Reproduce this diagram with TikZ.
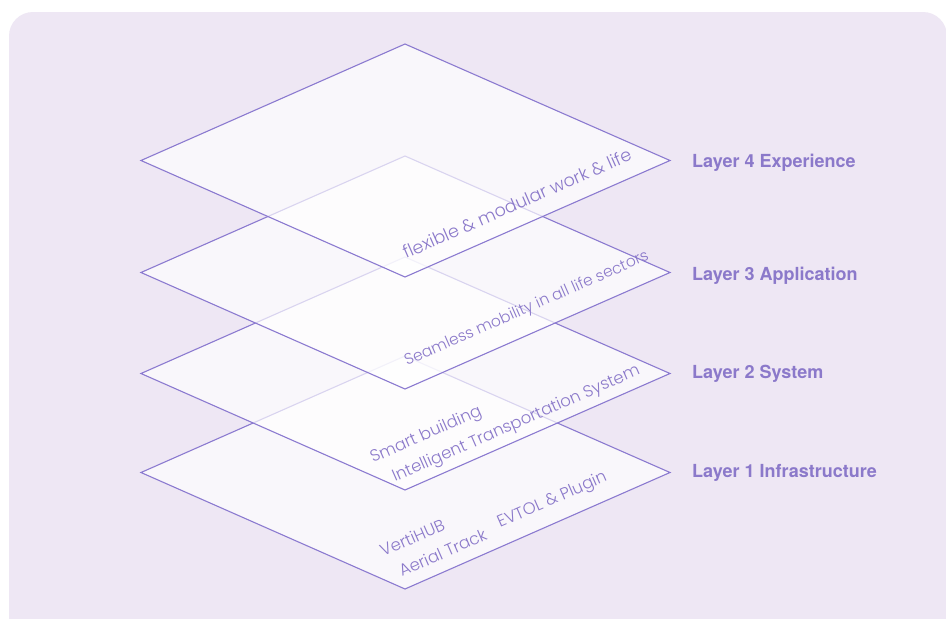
\documentclass[tikz,border=0pt]{standalone}
\usepackage{fontspec}
\setmainfont{Poppins Light}
\newfontfamily\labelfont{TeX Gyre Heros}
\definecolor{bgpurple}{HTML}{EEE7F4}
\definecolor{edgepurple}{HTML}{8B7AD0}
\definecolor{textpurple}{HTML}{8B79CA}
\tikzset{
  plane/.style={draw=edgepurple, line width=1.1pt, fill=white, fill opacity=0.68, line join=miter},
  layerlabel/.style={anchor=base west, inner sep=0pt, text=textpurple,
    font=\labelfont\bfseries\fontsize{18}{21}\selectfont},
  planetext/.style={anchor=base west, inner sep=0pt, rotate=23.7, text=textpurple,
    font=\fontsize{16.5}{19}\selectfont},
}
\begin{document}
\begin{tikzpicture}[x=1pt, y=-1pt]
\useasboundingbox (0,0) rectangle (946,619);
\fill[white] (0,0) rectangle (946,619);
% rounded panel behind the stack
\fill[bgpurple, rounded corners=24pt] (9,12) rectangle (947,660);

% the four stacked planes, drawn bottom-up so upper ones veil the lower edges
\foreach \name/\cy in {p1/472.5, p2/373.5, p3/272.5, p4/160.5} {
  \coordinate (\name-t) at (405,\cy-116.5);
  \coordinate (\name-r) at (670,\cy);
  \coordinate (\name-b) at (405,\cy+116.5);
  \coordinate (\name-l) at (141,\cy);
  \draw[plane] (\name-t) -- (\name-r) -- (\name-b) -- (\name-l) -- cycle;
}

% texts lying on the planes
\node[planetext, font=\fontsize{17.5}{20}\selectfont] (t4) at (406,259) {flexible \& modular work \& life};
\node[planetext, font=\fontsize{15.5}{18}\selectfont] (t3) at (407,366) {Seamless mobility in all life sectors};
\node[planetext] (t2a) at (373,463) {Smart building};
\node[planetext] (t2b) at (395,482) {Intelligent Transportation System};
\node[planetext] (t1a) at (383,557) {VertiHUB};
\node[planetext] (t1b) at (402,577) {Aerial Track};
\node[planetext] (t1c) at (500,528) {EVTOL \& Plugin};

% layer names
\node[layerlabel] (l4) at (692,167) {Layer 4 Experience};
\node[layerlabel] (l3) at (692,280.5) {Layer 3 Application};
\node[layerlabel] (l2) at (692,378.5) {Layer 2 System};
\node[layerlabel] (l1) at (692,477) {Layer 1 Infrastructure};
\end{tikzpicture}
\end{document}
